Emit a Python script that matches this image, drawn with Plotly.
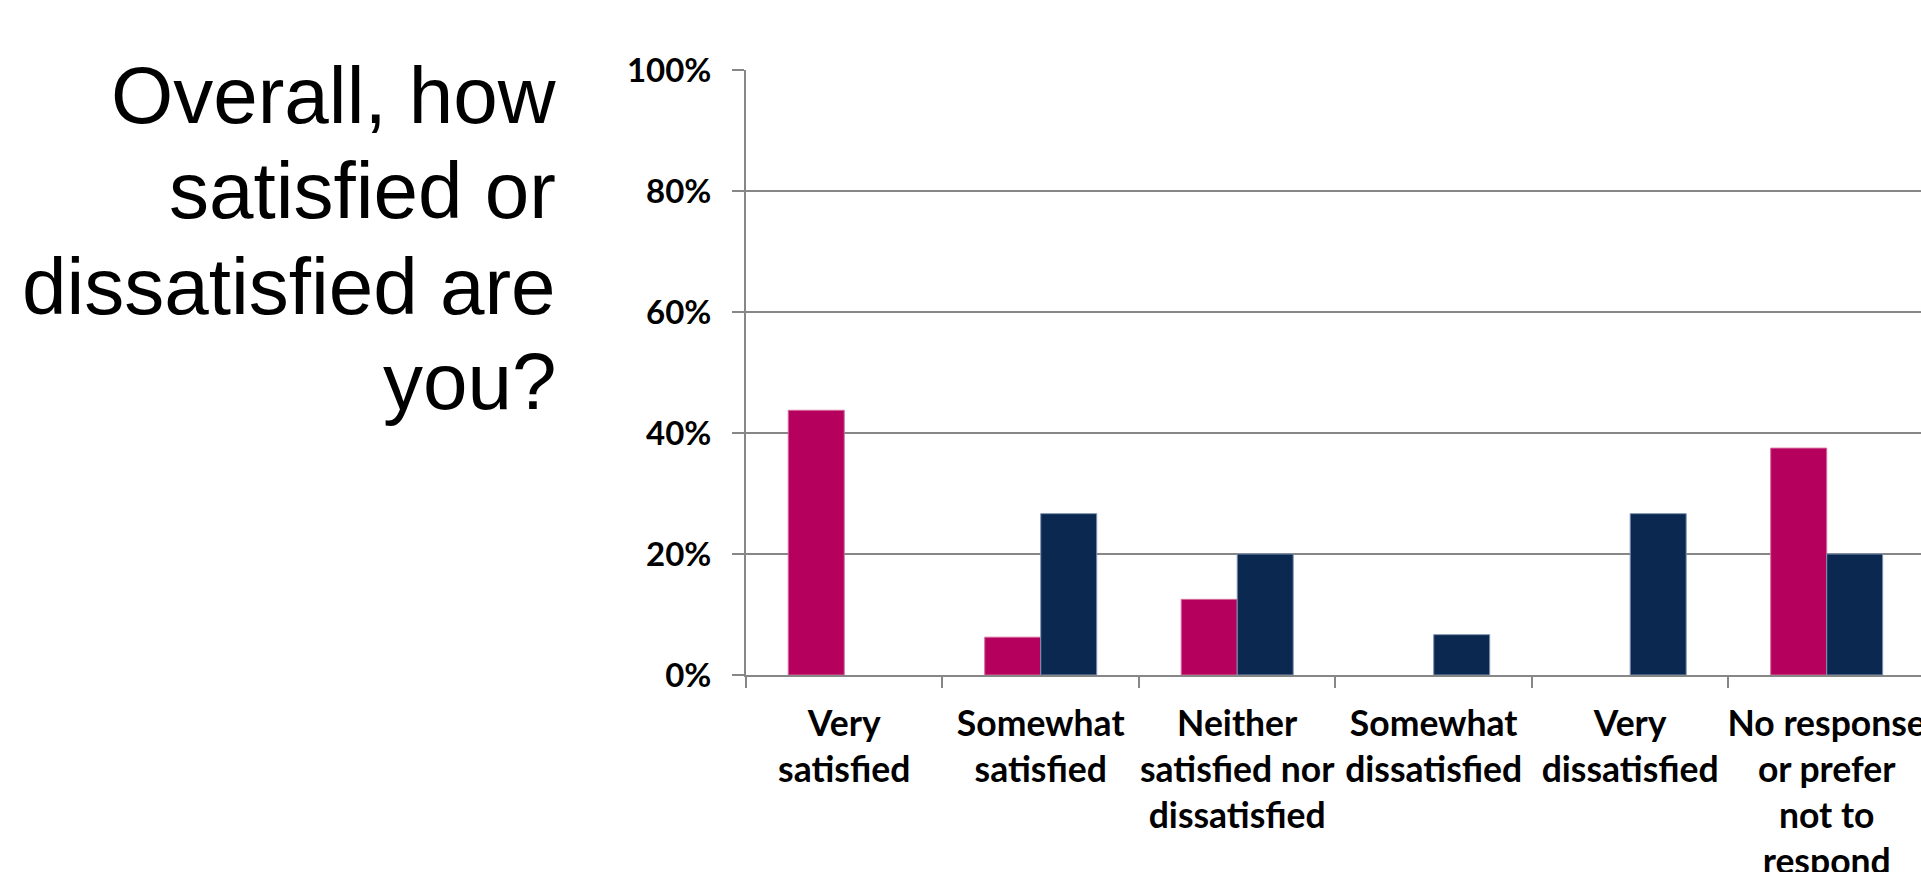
import plotly.graph_objects as go

# ---- data ----
categories = ["Very satisfied", "Somewhat satisfied", "Neither satisfied nor dissatisfied",
              "Somewhat dissatisfied", "Very dissatisfied", "No response or prefer not to respond"]
tick_labels = ["Very<br>satisfied", "Somewhat<br>satisfied", "Neither<br>satisfied nor<br>dissatisfied",
               "Somewhat<br>dissatisfied", "Very<br>dissatisfied", "No response<br>or prefer<br>not to<br>respond"]
series_a = [0.4375, 0.0625, 0.125, 0.0, 0.0, 0.375]      # magenta
series_b = [0.0, 0.2667, 0.20, 0.0667, 0.2667, 0.20]     # navy
y_ticks = [0, 0.2, 0.4, 0.6, 0.8, 1.0]
y_tick_text = ["0%", "20%", "40%", "60%", "80%", "100%"]
title_lines = ["Overall, how", "satisfied or", "dissatisfied are", "you?"]

W, H = 1921, 872
PINK = "#B5005D"
NAVY = "#0B2950"
GRID = "#878787"


def outline_widths(vals):
    return [1 if v > 0 else 0 for v in vals]


fig = go.Figure()
fig.add_trace(go.Bar(x=categories, y=series_a,
                     marker=dict(color=PINK, line=dict(color="#D66A9C", width=outline_widths(series_a))),
                     showlegend=False, hoverinfo="skip"))
fig.add_trace(go.Bar(x=categories, y=series_b,
                     marker=dict(color=NAVY, line=dict(color="#7F93B3", width=outline_widths(series_b))),
                     showlegend=False, hoverinfo="skip"))

fig.update_layout(
    width=W, height=H,
    margin=dict(l=0, r=0, t=0, b=0, autoexpand=False),
    paper_bgcolor="white", plot_bgcolor="white",
    barmode="group", bargap=0.43, bargroupgap=0,
    xaxis=dict(
        domain=[746 / W, 1.0],
        range=[-0.5, 5.48],
        automargin=False,
        tickmode="array", tickvals=categories, ticktext=tick_labels, tickangle=0,
        tickson="boundaries", ticks="outside", ticklen=11, tickwidth=2, tickcolor=GRID,
        showgrid=False, showline=True, linecolor=GRID, linewidth=2,
        tickfont=dict(family="Lato", size=35.5, color="black", weight="bold"),
        ticklabelstandoff=16,
        fixedrange=True,
    ),
    yaxis=dict(
        domain=[(H - 675) / H, (H - 70) / H],
        range=[0, 1.0],
        automargin=False,
        tickmode="array", tickvals=y_ticks, ticktext=y_tick_text,
        ticks="outside", ticklen=12, tickwidth=2, tickcolor=GRID,
        showgrid=True, gridcolor=GRID, gridwidth=2,
        showline=True, linecolor=GRID, linewidth=2,
        zeroline=False,
        tickfont=dict(family="Lato", size=33, color="black", weight="bold"),
        ticklabelstandoff=14,
        fixedrange=True,
    ),
)

baselines = [123, 218.5, 314, 409.5]
for line, b in zip(title_lines, baselines):
    fig.add_annotation(
        text=line, xref="paper", yref="paper",
        x=558 / W, y=(H - (b - 28)) / H,
        xanchor="right", yanchor="middle", showarrow=False,
        font=dict(family="Liberation Sans", size=80, color="black"),
    )

fig.write_html("out.html")
